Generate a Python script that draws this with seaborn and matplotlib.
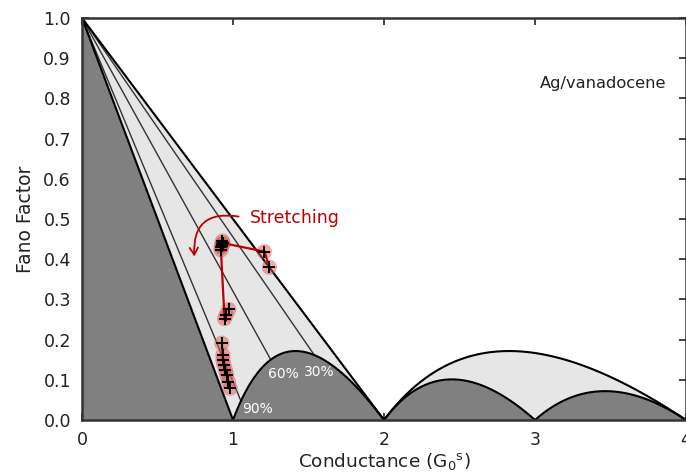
import numpy as np
import pandas as pd
import matplotlib
matplotlib.use("Agg")
import matplotlib.pyplot as plt
from matplotlib.patches import FancyArrowPatch
import seaborn as sns

# ---- data ----
# fan lines: label percentages (two-channel ratio lines)
fan_labels = ["90%", "60%", "30%"]
fan_p = [0.9, 0.6, 0.3]
fan_label_xy = [(1.06, 0.027), (1.235, 0.114), (1.47, 0.119)]

# measured trajectory (stretching), connected by a red line
traj_G = [1.241, 1.208, 0.935, 0.930, 0.925, 0.922, 0.928, 0.920, 0.944]
traj_F = [0.380, 0.419, 0.440, 0.445, 0.437, 0.430, 0.433, 0.423, 0.252]
# extra points near the end of the first segment (no line)
extra_G = [0.955, 0.972]
extra_F = [0.262, 0.275]
# low-Fano column of points, connected
col_G = [0.926, 0.933, 0.933, 0.940, 0.950, 0.959, 0.970, 0.981]
col_F = [0.191, 0.162, 0.149, 0.137, 0.124, 0.112, 0.095, 0.079]

x_ticks = [0, 1, 2, 3, 4]
y_ticks = [0.0, 0.1, 0.2, 0.3, 0.4, 0.5, 0.6, 0.7, 0.8, 0.9, 1.0]

sns.set_style("ticks")
plt.rcParams["font.family"] = ["DejaVu Sans"]

fig = plt.figure(figsize=(6.86, 4.76), dpi=100)
ax = fig.add_axes([82 / 686, 1 - 420 / 476, 1 - 82 / 686, (420 - 18) / 476])

DARK = "#808080"
LIGHT = "#e6e6e6"

# theoretical boundaries
g02 = np.linspace(0, 2, 400)
upper02 = 1 - g02 / 2
lower02 = np.where(g02 <= 1, 1 - g02, (g02 - 1) * (2 - g02) / np.maximum(g02, 1e-9))
g24 = np.linspace(2, 4, 400)
upper24 = (g24 - 2) * (4 - g24) / (2 * g24)
lower24 = np.where(g24 <= 3, (g24 - 2) * (3 - g24) / g24, (g24 - 3) * (4 - g24) / g24)

ax.fill_between(g02, lower02, upper02, color=LIGHT, lw=0, zorder=1)
ax.fill_between(g24, lower24, upper24, color=LIGHT, lw=0, zorder=1)
ax.fill_between(g02, 0, lower02, color=DARK, lw=0, zorder=1)
ax.fill_between(g24, 0, lower24, color=DARK, lw=0, zorder=1)

# fan lines
for p in fan_p:
    k = (1 - p) / (1 + p)
    ax.plot([0, 1 + k], [1, k * (1 - k) / (1 + k)], color="#333333", lw=1.0, zorder=2)

blk = dict(color="black", lw=1.5, zorder=3)
ax.plot(g02, upper02, **blk)
ax.plot(g24, upper24, **blk)
ax.plot(g02, lower02, **blk)
ax.plot(g24, lower24, **blk)

for lab, (x, y) in zip(fan_labels, fan_label_xy):
    ax.text(x, y, lab, color="white", fontsize=10, va="center", zorder=4)

# data
RED = "#c00000"
traj = pd.DataFrame({"G": traj_G, "F": traj_F})
col = pd.DataFrame({"G": col_G, "F": col_F})
extra = pd.DataFrame({"G": extra_G, "F": extra_F})
allpts = pd.concat([traj, extra, col], ignore_index=True)

sns.scatterplot(data=allpts, x="G", y="F", s=120, color="#d85a5a", alpha=0.5,
                edgecolor="none", ax=ax, zorder=5)
sns.lineplot(data=traj, x="G", y="F", sort=False, color=RED, lw=1.6, ax=ax, zorder=6)
sns.lineplot(data=col, x="G", y="F", sort=False, color=RED, lw=1.6, ax=ax, zorder=6)
sns.scatterplot(data=allpts, x="G", y="F", s=65, marker="+", color="black",
                linewidth=1.4, ax=ax, zorder=7)

# stretching arrow
arr = FancyArrowPatch((1.055, 0.505), (0.745, 0.400),
                      connectionstyle="arc3,rad=0.65", arrowstyle="->,head_length=5,head_width=3",
                      color=RED, lw=1.3, zorder=8)
ax.add_patch(arr)
ax.text(1.11, 0.502, "Stretching", color=RED, fontsize=12.5, va="center", ha="left", zorder=8)
ax.text(3.03, 0.836, "Ag/vanadocene", color="#222222", fontsize=11.7, va="center", ha="left")

ax.set_xlim(0, 4)
ax.set_ylim(0, 1)
ax.set_xticks(x_ticks)
ax.set_xticklabels([str(t) for t in x_ticks])
ax.set_yticks(y_ticks)
ax.set_yticklabels([f"{t:.1f}" for t in y_ticks])
ax.tick_params(direction="in", length=5, width=1.2, top=True, right=True,
               labelsize=12.5, colors="#222222", pad=8)
for s in ax.spines.values():
    s.set_linewidth(1.8)
    s.set_color("#333333")
    s.set_zorder(9)
ax.set_xlabel("Conductance (G$_\\mathregular{0}$$^\\mathregular{s}$)", fontsize=13.3, color="#222222", labelpad=1)
ax.set_ylabel("Fano Factor", fontsize=13.5, color="#222222", labelpad=6)

fig.savefig("out.png", dpi=100)
